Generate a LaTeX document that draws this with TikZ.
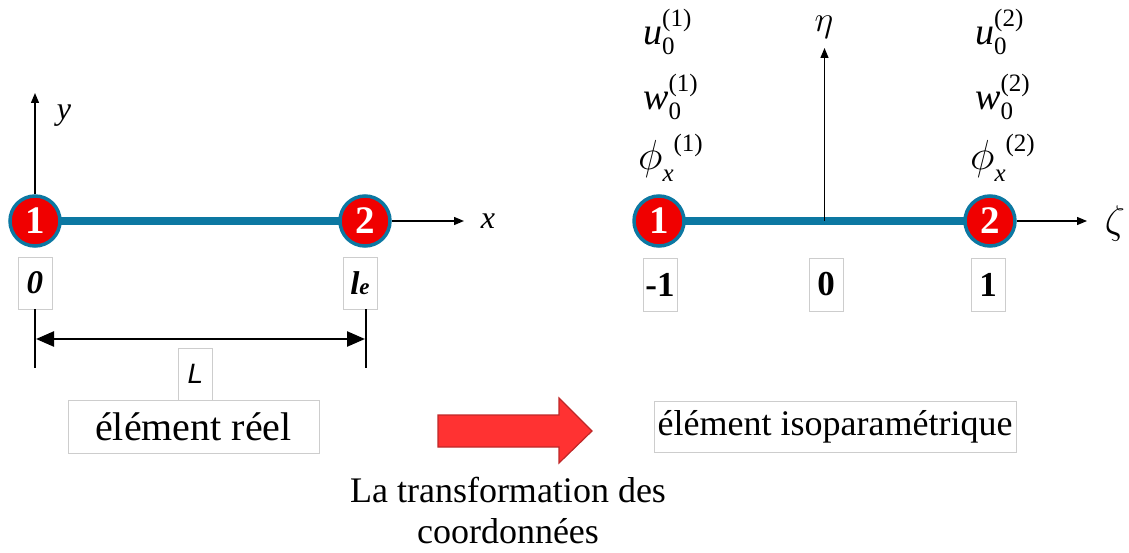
\RequirePackage{fix-cm}
\documentclass[tikz,border=0pt]{standalone}
\usepackage{fontspec}
\setmainfont{Liberation Serif}
\newfontfamily\arialfont{Liberation Sans}
\usetikzlibrary{arrows.meta,backgrounds,calc}
\definecolor{barblue}{RGB}{12,120,162}
\definecolor{nodered}{RGB}{240,0,0}
\definecolor{arrred}{RGB}{255,50,50}
\definecolor{arrdark}{RGB}{190,40,40}
\definecolor{boxgray}{RGB}{205,205,205}
\newcommand\fs[1]{\fontsize{#1}{#1}\selectfont}
\newcommand\dofsym[3]{#1\rlap{\raisebox{-10pt}{\fs{25}#2}}\raisebox{18pt}{\fs{25}#3}}
\newcommand\dofphi[2]{{\fs{42}$\phi$}\raisebox{-12pt}{\fs{25}\textit{#1}}\raisebox{18pt}{\fs{25}#2}}
\begin{document}
\begin{tikzpicture}[x=1pt,y=-1pt,
  endnode/.style={circle,fill=nodered,draw=barblue,line width=3.5pt,minimum size=50pt,inner sep=0pt,text=white,font=\fs{39}\bfseries},
  valbox/.style={draw=boxgray,line width=0.8pt,minimum width=34pt,minimum height=52pt,inner sep=0pt},
  txtbox/.style={draw=boxgray,line width=0.8pt,inner sep=0pt},
  axis/.style={line width=1.3pt,-{Triangle[length=10pt,width=8pt]}},
  dimline/.style={line width=2.4pt,{Triangle[length=18pt,width=15pt]}-{Triangle[length=18pt,width=15pt]}},
  tick/.style={line width=1.2pt},
  bar/.style={barblue,line width=8pt},
  dof/.style={anchor=base west,inner sep=0pt,font=\fs{38}}]
\useasboundingbox (0,0) rectangle (1129,553);

% ---------- real element ----------
\node[endnode] (a1) at (35,221) {1};
\node[endnode] (a2) at (365,221) {2};
\begin{scope}[on background layer]
  \draw[bar] (a1.center) -- (a2.center);
\end{scope}
\coordinate (yend) at (35,93);
\draw[axis] (a1.north) -- (yend);
\node[font=\fs{32}\itshape] (ylab) at (64,116) {y};
\coordinate (xend) at (464,221);
\draw[axis] (a2.east) -- (xend);
\node[font=\fs{32}\itshape] (xlab) at (488,221) {x};

\node[valbox] (v0) at (35,283) {\fs{33}\bfseries\itshape 0};
\node[valbox] (vl) at (360,283) {\bfseries\itshape\fs{33}l\fs{23}e};
\coordinate (tl) at (35,368);
\coordinate (tr) at (366,368);
\draw[tick] (v0.south) -- (tl);
\draw[tick] (vl.south -| tr) -- (tr);
\coordinate (dl) at (36,339);
\coordinate (dr) at (365,339);
\draw[dimline] (dl) -- (dr);
\node[valbox] (Lb) at (195.5,374) {\arialfont\itshape\fs{28}L};
\node[txtbox,minimum width=251pt,minimum height=53pt] (reel) at (193.5,426.5) {\fs{40}élément réel};

% ---------- isoparametric element ----------
\node[endnode] (b1) at (659,221) {1};
\node[endnode] (b2) at (990,221) {2};
\begin{scope}[on background layer]
  \draw[bar] (b1.center) -- (b2.center);
\end{scope}
\coordinate (mid) at ($(b1)!0.5!(b2)$);
\coordinate (etaend) at (824.5,48);
\draw[axis] (mid) -- (etaend);
\node[font=\fs{36}] (etalab) at (824,27) {$\eta$};
\coordinate (zend) at (1087,221);
\draw[axis] (b2.east) -- (zend);
\node[font=\fs{40}] (zetalab) at (1115,224) {$\zeta$};

\node[valbox,minimum height=53pt] (c1) at (660,284.5) {\fs{35}\bfseries -1};
\node[valbox,minimum height=53pt] (c0) at (826,284.5) {\fs{35}\bfseries 0};
\node[valbox,minimum height=53pt] (c2) at (988,284.5) {\fs{35}\bfseries 1};

\node[dof] (u1) at (643,45) {\dofsym{\textit{u}}{0}{(1)}};
\node[dof] (w1) at (643,110) {\dofsym{\textit{w}}{0}{(1)}};
\node[dof] (p1) at (638,170) {\dofphi{x}{(1)}};
\node[dof] (u2) at (975,45) {\dofsym{\textit{u}}{0}{(2)}};
\node[dof] (w2) at (975,110) {\dofsym{\textit{w}}{0}{(2)}};
\node[dof] (p2) at (970,170) {\dofphi{x}{(2)}};

\node[txtbox,minimum width=362pt,minimum height=51pt] (iso) at (835,426.5) {\fs{36}élément isoparamétrique};

% ---------- transformation arrow ----------
\draw[fill=arrred,draw=arrdark,line width=1.2pt,line join=miter]
  (438,415) -- (559,415) -- (559,398) -- (592,431) -- (559,463) -- (559,447) -- (438,447) -- cycle;
\node[anchor=north,align=center,inner sep=0pt,font=\fontsize{36}{41}\selectfont] (trans) at (508,477)
  {La transformation des\\coordonnées};
\end{tikzpicture}
\end{document}
